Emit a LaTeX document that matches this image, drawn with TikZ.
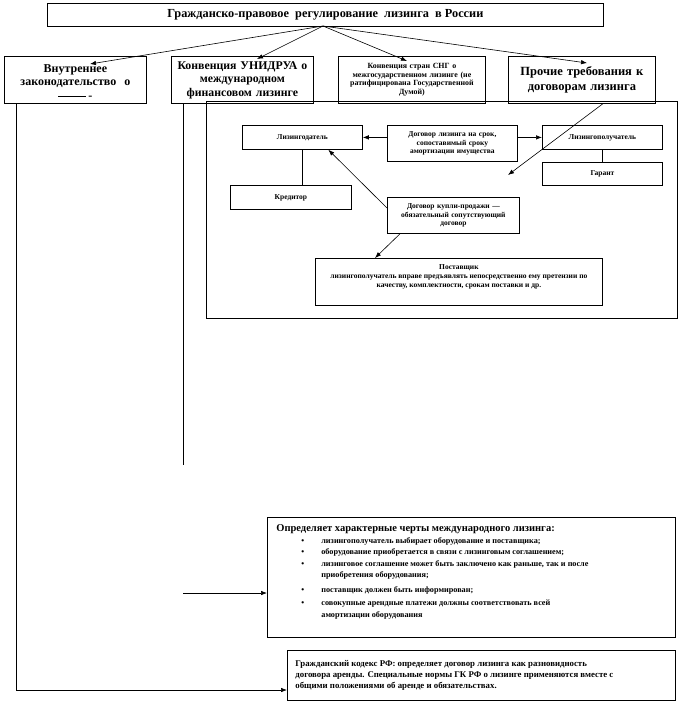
\documentclass[tikz,border=0pt]{standalone}
\usepackage{fontspec}
\setmainfont{Liberation Serif}
\usetikzlibrary{arrows.meta}
\tikzset{
  box/.style={draw, line width=0.8pt, anchor=north west, inner sep=1pt, align=center, font=\bfseries},
  arr/.style={line width=0.6pt, -{Latex[length=6pt,width=4.5pt]}},
  ln/.style={line width=0.8pt},
  sm/.style={box, font=\bfseries\fontsize{7.5}{8.8}\selectfont},
}
\newcommand{\bitem}[1]{\par\noindent\hspace*{29pt}\makebox[20pt][l]{\textbullet}#1}
\newcommand{\bcont}[1]{\par\noindent\hspace*{49pt}#1}
\begin{document}
\begin{tikzpicture}[x=1pt,y=-1pt]
\useasboundingbox (0,0) rectangle (678,702);
% title
\node[box, minimum width=556pt, minimum height=23pt, font=\bfseries\fontsize{12.3}{13}\selectfont] (title) at (47,3) {Гражданско-правовое\ \ регулирование\ \ лизинга\ \ в России};
\coordinate (src) at (323,26);
% top boxes
\node[box, minimum width=142pt, minimum height=47pt, text width=138pt, font=\bfseries\fontsize{12}{12.5}\selectfont] (b1) at (4,56) {\rule{0pt}{13pt}Внутреннее\\законодательство\ \ о\\[2pt]\rule[3pt]{28pt}{0.6pt}\,-};
\node[box, minimum width=142pt, minimum height=47pt, text width=140pt, font=\bfseries\fontsize{11.8}{13.5}\selectfont] (b2) at (171,56) {Конвенция УНИДРУА о\\ международном\\ финансовом лизинге};
\node[box, minimum width=147pt, minimum height=47pt, text width=145pt, font=\bfseries\fontsize{7.9}{8.6}\selectfont] (b3) at (338,56) {Конвенция стран СНГ о\\ межгосударственном лизинге (не\\ ратифицирована Государственной\\ Думой)};
\node[box, minimum width=147pt, minimum height=47pt, text width=145pt, font=\bfseries\fontsize{12.5}{15}\selectfont] (b4) at (508,56) {Прочие требования к\\ договорам лизинга};
\coordinate (a1) at (90,64);
\coordinate (a2) at (257,59);
\coordinate (a3) at (407,61);
\coordinate (a4) at (587,63);
\foreach \t in {a1,a2,a3,a4} \draw[arr] (src) -- (\t);
% inner frame
\node[draw, line width=0.8pt, anchor=north west, minimum width=471pt, minimum height=217pt, inner sep=0pt] (frame) at (206,101) {};
\node[sm, minimum width=120pt, minimum height=24pt] (ldat) at (242,125) {Лизингодатель};
\node[sm, minimum width=130pt, minimum height=36pt, text width=128pt] (dogl) at (387,125) {Договор лизинга на срок,\\ сопоставимый сроку\\ амортизации имущества};
\node[sm, minimum width=120pt, minimum height=24pt] (lpol) at (542,125) {Лизингополучатель};
\node[sm, minimum width=120pt, minimum height=23pt] (garant) at (542,162) {Гарант};
\node[sm, minimum width=121pt, minimum height=24pt] (kred) at (230,185) {Кредитор};
\node[sm, minimum width=132pt, minimum height=36pt, text width=130pt] (dkp) at (387,197) {Договор купли-продажи —\\ обязательный сопутствующий\\ договор};
\node[sm, minimum width=287pt, minimum height=47pt, inner sep=0pt] (post) at (315,258) {\parbox[c][45pt][t]{285pt}{\centering\rule{0pt}{10pt}Поставщик\\ лизингополучатель вправе предъявлять непосредственно ему претензии по\\ качеству, комплектности, срокам поставки и др.}};
\draw[arr] (dogl.west |- ldat.east) -- (ldat.east);
\draw[arr] (dogl.east |- lpol.west) -- (lpol.west);
\draw[ln] (lpol.south) -- (garant.north);
\draw[ln] (ldat.south) -- (ldat.south |- kred.north);
\draw[arr] ([yshift=-11pt]dkp.north west) -- ([xshift=26pt]ldat.south);
\draw[arr] ([xshift=13pt]dkp.south west) -- ([xshift=60pt]post.north west);
\coordinate (free) at (508,175);
\draw[arr] ([xshift=-53pt]b4.south east) -- (free);
% bottom boxes
\node[draw, line width=0.8pt, anchor=north west, minimum width=408pt, minimum height=120pt, inner sep=0pt, align=left, font=\bfseries] (def) at (267,517) {\parbox[t][118pt][t]{398pt}{\fontsize{8.2}{11.6}\selectfont\noindent\hspace*{4pt}{\fontsize{10.5}{11.6}\selectfont\rule{0pt}{13pt}Определяет характерные черты международного лизинга:}
\bitem{лизингополучатель выбирает оборудование и поставщика;}
\bitem{оборудование приобретается в связи с лизинговым соглашением;}
\bitem{лизинговое соглашение может быть заключено как раньше, так и после}
\bcont{приобретения оборудования;}\par\vspace{3pt}
\bitem{поставщик должен быть информирован;}\par\vspace{1.5pt}
\bitem{совокупные арендные платежи должны соответствовать всей}
\bcont{амортизации оборудования}}};
\node[draw, line width=0.8pt, anchor=north west, minimum width=388pt, minimum height=50pt, inner sep=0pt, font=\bfseries\fontsize{8.8}{11.3}\selectfont] (gk) at (287,650) {\parbox[c][48pt][c]{386pt}{\raggedright\hspace*{7pt}Гражданский кодекс РФ: определяет договор лизинга как разновидность\\ \hspace*{7pt}договора аренды. Специальные нормы ГК РФ о лизинге применяются вместе с\\ \hspace*{7pt}общими положениями об аренде и обязательствах.}};
% left connectors
\coordinate (l1) at (16,690);
\coordinate (l2) at (183,465);
\coordinate (l3) at (183,593);
\draw[ln] (b1.south -| l1) -- (l1);
\draw[arr] (l1) -- (l1 -| gk.west);
\draw[ln] (b2.south -| l2) -- (l2);
\draw[arr] (l3) -- (l3 -| def.west);
\end{tikzpicture}
\end{document}
